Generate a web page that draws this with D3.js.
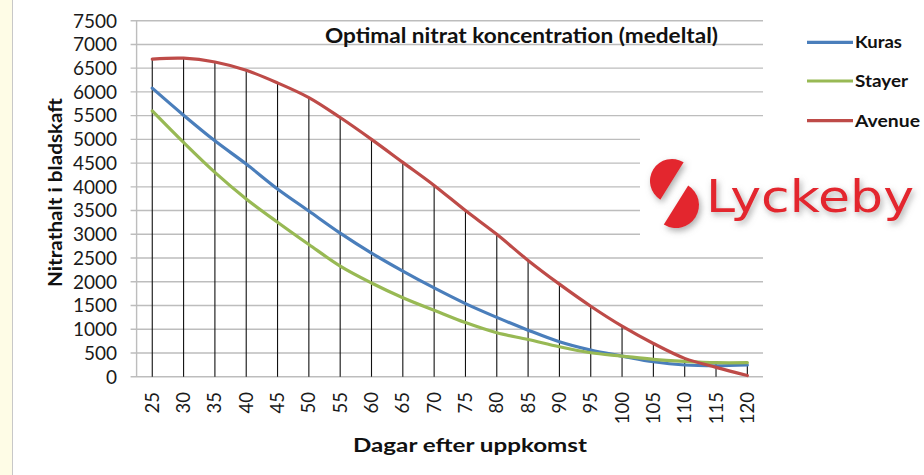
<!DOCTYPE html>
<html>
<head>
<meta charset="utf-8">
<script src="https://cdn.jsdelivr.net/npm/d3@7"></script>
<style>
  body { margin: 0; background: #fff; }
  svg { display: block; font-family: Lato, "Open Sans", sans-serif; }
</style>
</head>
<body>
<svg width="924" height="475"></svg>
<script>
// days after emergence
var days = [25, 30, 35, 40, 45, 50, 55, 60, 65, 70, 75, 80, 85, 90, 95, 100, 105, 110, 115, 120];
var kuras = [6080, 5510, 4970, 4480, 3955, 3490, 3025, 2605, 2225, 1870, 1540, 1250, 980, 735, 560, 435, 315, 246, 231, 246];
var stayer = [5600, 4935, 4305, 3745, 3255, 2785, 2330, 1975, 1665, 1400, 1140, 925, 785, 630, 505, 435, 365, 323, 295, 295];
var avenue = [6690, 6710, 6630, 6455, 6190, 5880, 5460, 5000, 4515, 4030, 3500, 3000, 2450, 1950, 1485, 1065, 700, 386, 197, 25];
var seriesNames = ["Kuras", "Stayer", "Avenue"];
var seriesColors = ["#4a7ebb", "#98b954", "#be4b48"];
var seriesValues = [kuras, stayer, avenue];

var svg = d3.select("svg");

var plotLeft = 136.6, plotRight = 763, plotTop = 20.7, plotBottom = 376.7;

var x = d3.scalePoint().domain(days).range([plotLeft, plotRight]).padding(0.5);
var y = d3.scaleLinear().domain([0, 7500]).range([plotBottom, plotTop]);

// pale margin strip on the left
svg.append("rect").attr("x", 0).attr("y", 0).attr("width", 12).attr("height", 475).attr("fill", "#fefce6");
svg.append("line").attr("x1", 12.5).attr("x2", 12.5).attr("y1", 0).attr("y2", 475)
    .attr("stroke", "#c8c8c8").attr("stroke-width", 1);

// gridlines + y labels
var yTicks = y.ticks(15);
svg.append("g").selectAll("line")
    .data(yTicks)
  .enter().append("line")
    .attr("x1", plotLeft - 6).attr("x2", plotRight)
    .attr("y1", function(d) { return y(d); })
    .attr("y2", function(d) { return y(d); })
    .attr("stroke", "#bdbdbd").attr("stroke-width", 1.4);

svg.append("line").attr("x1", plotLeft).attr("x2", plotLeft).attr("y1", plotTop).attr("y2", plotBottom)
    .attr("stroke", "#bdbdbd").attr("stroke-width", 1.4);

svg.append("g").selectAll("text")
    .data(yTicks)
  .enter().append("text")
    .attr("x", 117)
    .attr("y", function(d) { return y(d); })
    .attr("dy", "0.36em")
    .attr("text-anchor", "end")
    .attr("font-size", 19)
    .attr("fill", "#1a1a1a")
    .text(function(d) { return d; });

// x labels, rotated
svg.append("g").selectAll("text")
    .data(days)
  .enter().append("text")
    .attr("transform", function(d) { return "translate(" + (x(d) + 6.5) + ",392) rotate(-90)"; })
    .attr("text-anchor", "end")
    .attr("font-size", 18.5)
    .attr("fill", "#1a1a1a")
    .text(function(d) { return d; });

// drop lines from the highest series down to the axis
svg.append("g").selectAll("line")
    .data(days)
  .enter().append("line")
    .attr("x1", function(d) { return x(d); })
    .attr("x2", function(d) { return x(d); })
    .attr("y1", function(d, i) { return y(d3.max(seriesValues, function(s) { return s[i]; })); })
    .attr("y2", plotBottom)
    .attr("stroke", "#111").attr("stroke-width", 1.1);

// series
var line = d3.line()
    .x(function(d, i) { return x(days[i]); })
    .y(function(d) { return y(d); })
    .curve(d3.curveCatmullRom.alpha(0.5));

svg.append("g").selectAll("path")
    .data(seriesValues)
  .enter().append("path")
    .attr("d", line)
    .attr("fill", "none")
    .attr("stroke", function(d, i) { return seriesColors[i]; })
    .attr("stroke-width", 3.2)
    .attr("stroke-linejoin", "round")
    .attr("stroke-linecap", "round");

// title
svg.append("text")
    .attr("x", 325).attr("y", 43)
    .attr("font-size", 20).attr("font-weight", "bold").attr("fill", "#111")
    .attr("textLength", 393).attr("lengthAdjust", "spacingAndGlyphs")
    .text("Optimal nitrat koncentration (medeltal)");

// axis titles
svg.append("text")
    .attr("transform", "translate(62,192.5) rotate(-90)")
    .attr("text-anchor", "middle")
    .attr("font-size", 19).attr("font-weight", "bold").attr("fill", "#111")
    .attr("textLength", 189).attr("lengthAdjust", "spacingAndGlyphs")
    .text("Nitrathalt i bladskaft");

svg.append("text")
    .attr("x", 470).attr("y", 452)
    .attr("text-anchor", "middle")
    .attr("font-size", 19).attr("font-weight", "bold").attr("fill", "#111")
    .attr("textLength", 234).attr("lengthAdjust", "spacingAndGlyphs")
    .text("Dagar efter uppkomst");

// legend
var legendY = [42.3, 81, 120.7];
var legendW = [47, 53, 65];
var legend = svg.append("g").selectAll("g")
    .data(seriesNames)
  .enter().append("g")
    .attr("transform", function(d, i) { return "translate(0," + legendY[i] + ")"; });
legend.append("line")
    .attr("x1", 807).attr("x2", 853).attr("y1", 0).attr("y2", 0)
    .attr("stroke", function(d, i) { return seriesColors[i]; })
    .attr("stroke-width", 3.2);
legend.append("text")
    .attr("x", 855).attr("dy", "0.36em")
    .attr("font-size", 17).attr("font-weight", "bold").attr("fill", "#111")
    .attr("textLength", function(d, i) { return legendW[i]; })
    .attr("lengthAdjust", "spacingAndGlyphs")
    .text(function(d) { return d; });

// Lyckeby logo
var defs = svg.append("defs");
var f = defs.append("filter").attr("id", "shadow").attr("x", "-10%").attr("y", "-20%").attr("width", "130%").attr("height", "150%");
f.append("feDropShadow").attr("dx", 2).attr("dy", 3).attr("stdDeviation", 3)
    .attr("flood-color", "#777").attr("flood-opacity", 0.6);

var logo = svg.append("g");
logo.append("rect").attr("x", 640).attr("y", 130).attr("width", 284).attr("height", 115).attr("fill", "#fff");

var g = logo.append("g").attr("filter", "url(#shadow)").attr("fill", "#e3262e");
// two offset half discs forming the S
var ang = -58 * Math.PI / 180;
function halfDisc(cx, cy, r, a0) {
    var p = d3.path();
    p.moveTo(cx + r * Math.cos(a0), cy + r * Math.sin(a0));
    p.arc(cx, cy, r, a0, a0 + Math.PI, false);
    p.closePath();
    return p.toString();
}
g.append("path").attr("d", halfDisc(672, 181, 22, ang + Math.PI));
g.append("path").attr("d", halfDisc(676, 205, 23, ang));

g.append("text")
    .attr("x", 706).attr("y", 212)
    .attr("font-family", "'DejaVu Sans', sans-serif")
    .attr("font-size", 44)
    .attr("textLength", 208).attr("lengthAdjust", "spacingAndGlyphs")
    .text("Lyckeby");
</script>
</body>
</html>
